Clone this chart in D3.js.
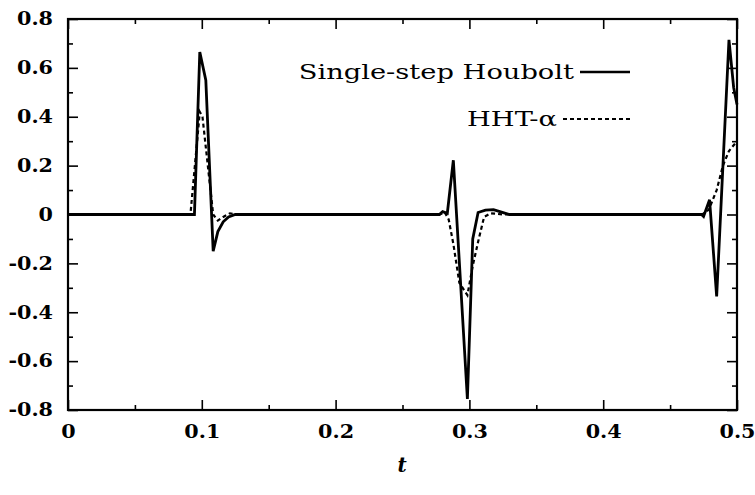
<!DOCTYPE html>
<html>
<head>
<meta charset="utf-8">
<script src="https://cdn.jsdelivr.net/npm/d3@7"></script>
<style>
  body { margin: 0; background: #fff; }
  svg { display: block; }
</style>
</head>
<body>
<script>
// values, t against response
var houbolt = [
  [0, 0], [0.0945, 0], [0.0985, 0.665], [0.103, 0.55], [0.1085, -0.15],
  [0.112, -0.07], [0.116, -0.03], [0.12, -0.01], [0.125, 0],
  [0.2775, 0], [0.280, 0.012], [0.2835, 0.005], [0.288, 0.222],
  [0.2985, -0.755], [0.3025, -0.1], [0.3065, 0.008], [0.312, 0.018],
  [0.318, 0.02], [0.324, 0.01], [0.33, 0],
  [0.4735, 0], [0.475, -0.008], [0.4795, 0.06], [0.4848, -0.335],
  [0.494, 0.715], [0.4975, 0.52], [0.5, 0.45]
];
var hht = [
  [0, 0], [0.0915, 0], [0.0985, 0.42], [0.1005, 0.40], [0.1085, 0.0],
  [0.112, -0.025], [0.116, -0.01], [0.121, 0.005], [0.126, 0],
  [0.278, 0], [0.2815, 0.01], [0.2845, -0.02], [0.288, -0.12],
  [0.2925, -0.28], [0.2985, -0.33], [0.3025, -0.21], [0.307, -0.1],
  [0.311, -0.01], [0.316, 0.005], [0.325, 0],
  [0.474, 0], [0.479, 0.02], [0.4848, 0.1], [0.4895, 0.2],
  [0.494, 0.26], [0.5, 0.3]
];
var xTicks = [0, 0.1, 0.2, 0.3, 0.4, 0.5];
var xTickLabels = ["0", "0.1", "0.2", "0.3", "0.4", "0.5"];
var xMinor = [0.05, 0.15, 0.25, 0.35, 0.45];
var yTicks = [-0.8, -0.6, -0.4, -0.2, 0, 0.2, 0.4, 0.6, 0.8];
var yTickLabels = ["-0.8", "-0.6", "-0.4", "-0.2", "0", "0.2", "0.4", "0.6", "0.8"];
var yMinor = [-0.7, -0.5, -0.3, -0.1, 0.1, 0.3, 0.5, 0.7];
var seriesNames = ["Single-step Houbolt", "HHT-\u03b1"];

var width = 755, height = 495;
var margin = {left: 68, right: 18, top: 19, bottom: 85};

var svg = d3.select("body")
  .append("svg")
    .attr("width", width)
    .attr("height", height);

var x = d3.scaleLinear()
  .domain([0, 0.5])
  .range([margin.left, width - margin.right]);

var y = d3.scaleLinear()
  .domain([-0.8, 0.8])
  .range([height - margin.bottom, margin.top]);

var serif = "'DejaVu Serif', serif";

// the original print is stretched sideways, so widen the glyphs to suit
function stretch(sel, k) {
  sel.each(function() {
    var t = d3.select(this);
    var x0 = +t.attr("x") || 0;
    t.attr("x", x0 / k)
      .attr("transform", "scale(" + k + ",1)");
  });
}

function styleAxis(g) {
  g.select(".domain").remove();
  g.selectAll(".tick line")
    .attr("stroke", "#000")
    .attr("stroke-width", 1.6);
  g.selectAll(".tick text")
    .attr("fill", "#000")
    .style("font-family", serif)
    .style("font-weight", "bold")
    .style("font-size", "18px")
    .call(stretch, 1.15);
}

// major ticks, all four sides pointing in
svg.append("g")
  .attr("transform", "translate(" + x(0) + ",0)")
  .call(d3.axisLeft(y).tickValues(yTicks).tickSize(-10).tickPadding(15)
    .tickFormat(function(d, i) { return yTickLabels[i]; }))
  .call(styleAxis);

svg.append("g")
  .attr("transform", "translate(" + x(0.5) + ",0)")
  .call(d3.axisRight(y).tickValues(yTicks).tickSize(-10).tickFormat(""))
  .call(styleAxis);

svg.append("g")
  .attr("transform", "translate(0," + y(-0.8) + ")")
  .call(d3.axisBottom(x).tickValues(xTicks).tickSize(-10).tickPadding(15)
    .tickFormat(function(d, i) { return xTickLabels[i]; }))
  .call(styleAxis);

svg.append("g")
  .attr("transform", "translate(0," + y(0.8) + ")")
  .call(d3.axisTop(x).tickValues(xTicks).tickSize(-10).tickFormat(""))
  .call(styleAxis);

// minor ticks
svg.append("g")
  .attr("transform", "translate(" + x(0) + ",0)")
  .call(d3.axisLeft(y).tickValues(yMinor).tickSize(-5).tickFormat(""))
  .call(styleAxis);
svg.append("g")
  .attr("transform", "translate(" + x(0.5) + ",0)")
  .call(d3.axisRight(y).tickValues(yMinor).tickSize(-5).tickFormat(""))
  .call(styleAxis);
svg.append("g")
  .attr("transform", "translate(0," + y(-0.8) + ")")
  .call(d3.axisBottom(x).tickValues(xMinor).tickSize(-5).tickFormat(""))
  .call(styleAxis);
svg.append("g")
  .attr("transform", "translate(0," + y(0.8) + ")")
  .call(d3.axisTop(x).tickValues(xMinor).tickSize(-5).tickFormat(""))
  .call(styleAxis);

// frame
svg.append("rect")
  .attr("x", x(0))
  .attr("y", y(0.8))
  .attr("width", x(0.5) - x(0))
  .attr("height", y(-0.8) - y(0.8))
  .attr("fill", "none")
  .attr("stroke", "#000")
  .attr("stroke-width", 2.2);

var line = d3.line()
  .x(function(d) { return x(d[0]); })
  .y(function(d) { return y(d[1]); });

svg.append("path")
  .datum(hht)
  .attr("d", line)
  .attr("fill", "none")
  .attr("stroke", "#000")
  .attr("stroke-width", 2.2)
  .attr("stroke-dasharray", "4,3");

svg.append("path")
  .datum(houbolt)
  .attr("d", line)
  .attr("fill", "none")
  .attr("stroke", "#000")
  .attr("stroke-width", 2.8);

// legend
var legend = svg.append("g");
var legendRows = [
  {name: seriesNames[0], y: 72, dash: null, x0: 580},
  {name: seriesNames[1], y: 119, dash: "4,3", x0: 563}
];
legendRows.forEach(function(r) {
  legend.append("text")
    .attr("x", r.x0 - 6)
    .attr("y", r.y + 7)
    .attr("text-anchor", "end")
    .style("font-family", serif)
    .style("font-size", "21px")
    .text(r.name)
    .call(stretch, 1.3);
  legend.append("line")
    .attr("x1", r.x0)
    .attr("x2", 630)
    .attr("y1", r.y)
    .attr("y2", r.y)
    .attr("stroke", "#000")
    .attr("stroke-width", r.dash ? 2 : 2.6)
    .attr("stroke-dasharray", r.dash);
});

// x axis title
svg.append("text")
  .attr("x", 402)
  .attr("y", 472)
  .attr("text-anchor", "middle")
  .style("font-family", serif)
  .style("font-style", "italic")
  .style("font-weight", "bold")
  .style("font-size", "20px")
  .text("t");
</script>
</body>
</html>
